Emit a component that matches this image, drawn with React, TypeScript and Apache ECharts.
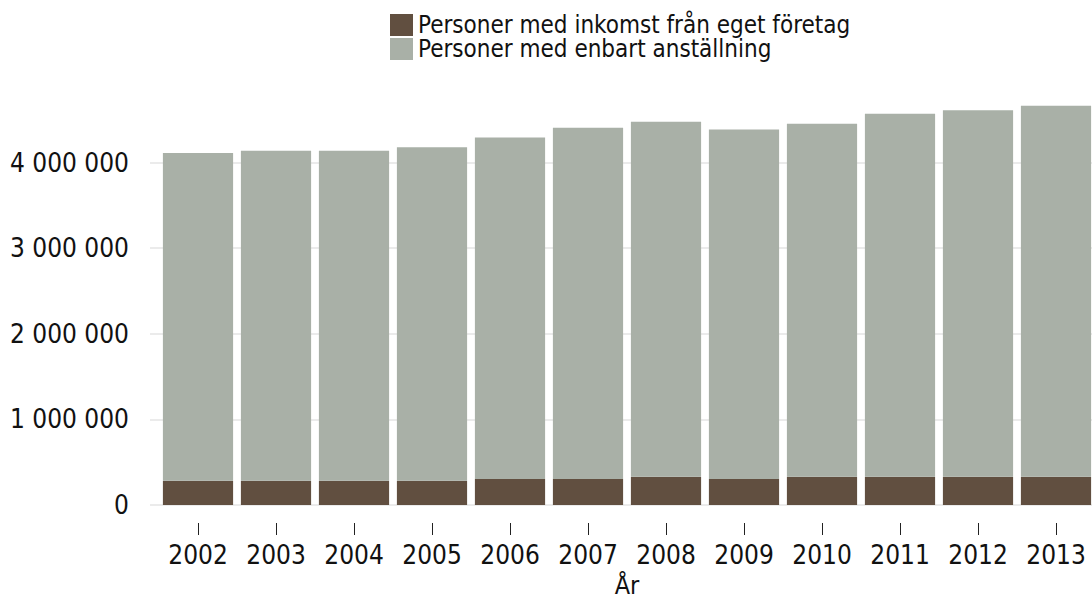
import React, { useEffect, useRef } from "react";
import * as echarts from "echarts";

const years = ["2002", "2003", "2004", "2005", "2006", "2007", "2008", "2009", "2010", "2011", "2012", "2013"];
const foretag = [284000, 284000, 284000, 284000, 304000, 304000, 331000, 304000, 331000, 331000, 331000, 331000];
const anstallning = [3829000, 3853000, 3853000, 3895000, 3988000, 4102000, 4145000, 4082000, 4122000, 4239000, 4281000, 4332000];
const seriesNames = ["Personer med inkomst från eget företag", "Personer med enbart anställning"];
const axisName = "År";

const FONT = "'DejaVu Sans Condensed', 'Liberation Sans Narrow', 'DejaVu Sans', sans-serif";
const GRID_COLOR = "#e4e4e4";

function fmt(v: number): string {
  return String(Math.round(v)).replace(/\B(?=(\d{3})+(?!\d))/g, " ");
}

export default function App() {
  const ref = useRef<HTMLDivElement>(null);
  useEffect(() => {
    if (!ref.current) return;
    const chart = echarts.init(ref.current, undefined, { renderer: "svg" });
    chart.setOption({
      animation: false,
      backgroundColor: "#ffffff",
      textStyle: { fontFamily: FONT },
      legend: {
        orient: "vertical",
        left: 390,
        top: 13,
        padding: 0,
        itemGap: 0,
        itemWidth: 23,
        itemHeight: 22,
        icon: "rect",
        textStyle: { fontFamily: FONT, fontSize: 24, lineHeight: 22, color: "#111" },
        data: seriesNames,
      },
      grid: [
        { left: 159, width: 936, top: 77, height: 428, outerBoundsMode: "none", containLabel: false },
        { left: 150, width: 9, top: 162.6, height: 342.4, outerBoundsMode: "none", containLabel: false },
      ],
      xAxis: [
        {
          type: "category",
          gridIndex: 0,
          data: years,
          position: "bottom",
          offset: 18,
          axisLine: { show: false, onZero: false },
          axisTick: { show: true, inside: false, interval: 0, alignWithLabel: true, length: 12, lineStyle: { color: "#222", width: 1 } },
          axisLabel: { interval: 0, fontFamily: FONT, fontSize: 26, color: "#111", margin: 19 },
          name: axisName,
          nameLocation: "middle",
          nameGap: 48,
          nameTextStyle: { fontFamily: FONT, fontSize: 25, color: "#111" },
        },
        { type: "category", gridIndex: 1, data: ["x"], show: false },
      ],
      yAxis: [
        {
          type: "value",
          gridIndex: 0,
          min: 0,
          max: 5000000,
          interval: 1000000,
          axisLine: { show: false },
          axisTick: { show: false },
          splitLine: {
            show: true,
            showMaxLine: false,
            lineStyle: { color: [GRID_COLOR, GRID_COLOR, GRID_COLOR, GRID_COLOR, GRID_COLOR, "transparent"], width: 1.5 },
          },
          axisLabel: {
            fontFamily: FONT,
            fontSize: 26,
            color: "#111",
            margin: 30,
            formatter: (v: number) => (v >= 5000000 ? "" : fmt(v)),
          },
        },
        {
          type: "value",
          gridIndex: 1,
          min: 0,
          max: 4000000,
          interval: 1000000,
          axisLine: { show: false },
          axisTick: { show: false },
          axisLabel: { show: false },
          splitLine: { show: true, lineStyle: { color: GRID_COLOR, width: 1.5 } },
        },
      ],
      series: [
        {
          name: seriesNames[0],
          type: "bar",
          stack: "total",
          xAxisIndex: 0,
          yAxisIndex: 0,
          data: foretag,
          barCategoryGap: "10%",
          itemStyle: { color: "#614f40" },
        },
        {
          name: seriesNames[1],
          type: "bar",
          stack: "total",
          xAxisIndex: 0,
          yAxisIndex: 0,
          data: anstallning,
          barCategoryGap: "10%",
          itemStyle: { color: "#a9b0a7" },
        },
      ],
    });
    return () => chart.dispose();
  }, []);
  return <div ref={ref} style={{ position: "absolute", left: 0, top: 0, width: 1092, height: 596 }} />;
}
